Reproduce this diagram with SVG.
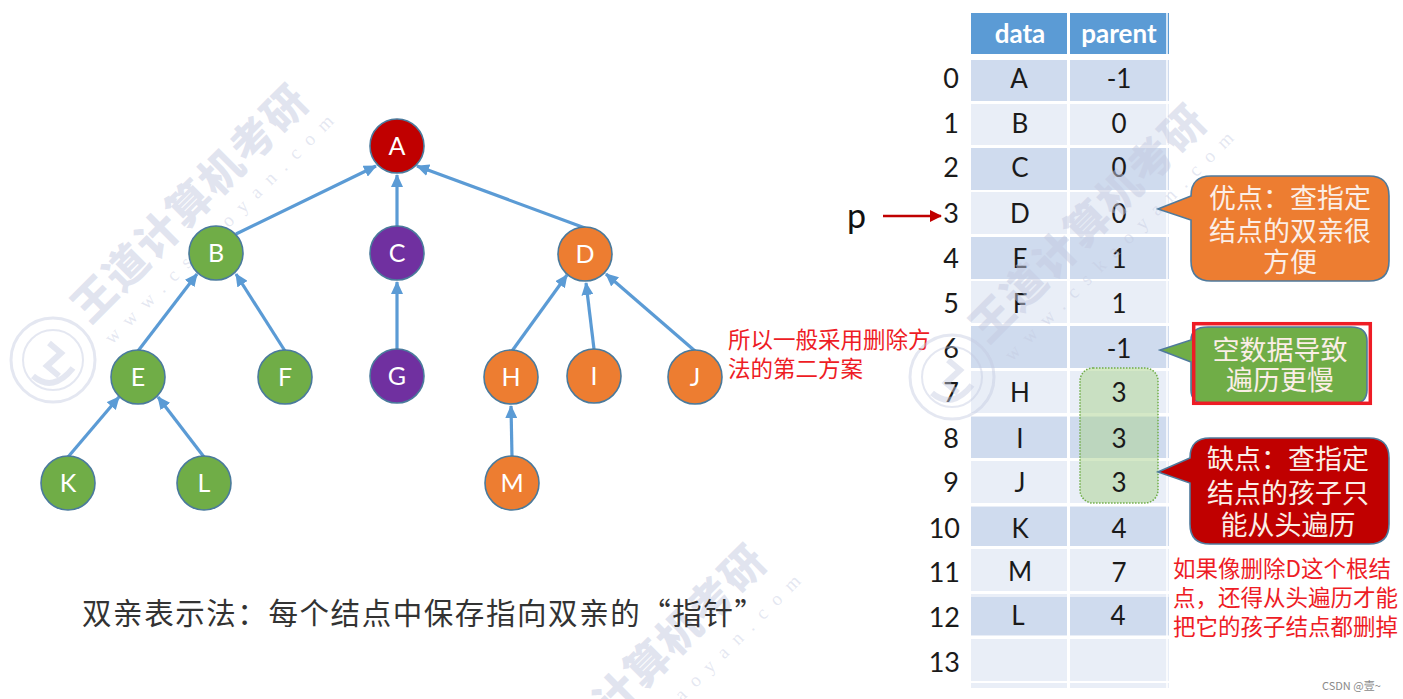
<svg xmlns="http://www.w3.org/2000/svg" width="1403" height="699" viewBox="0 0 1403 699">
<style>
text{font-family:"Noto Sans CJK SC","Noto Sans",sans-serif}
.lat{font-family:Lato,"Noto Sans",sans-serif}
.n circle{stroke:#4a7a9c;stroke-width:1.6}
.n text{font-family:Lato,"Noto Sans",sans-serif;font-size:25px;fill:#fff;text-anchor:middle}
.g{fill:#70ad47}.o{fill:#ed7d31}.p{fill:#7030a0}.r{fill:#c00000}
.e{stroke:#5b9bd5;stroke-width:3.2;fill:none;marker-end:url(#ah)}
.wm{font-size:43px;font-weight:900;fill:#c3c9e0;fill-opacity:.5}
.ws{font-family:"Liberation Serif",serif;font-size:19px;fill:#c3c9e0;fill-opacity:.45}
.seal{fill:none;stroke:#c3c9e0;stroke-opacity:.45}
.h{fill:#5b9bd5}.d{fill:#cfdbee}.l{fill:#e9eef7}
.c{font-family:Lato,"Noto Sans",sans-serif;font-size:26px;fill:#1a1a1a;text-anchor:middle}
.i{font-family:Lato,"Noto Sans",sans-serif;font-size:27px;fill:#1a1a1a;text-anchor:end}
.hd{font-family:Lato,"Noto Sans",sans-serif;font-size:26px;font-weight:700;fill:#fff;text-anchor:middle}
.co{stroke:#4f7a9c;stroke-width:1.6}
.ct{font-size:27px;fill:#fbeee6;text-anchor:middle}
.red{font-size:22.5px;fill:#ee1c25}
</style>
<defs>
<marker id="ah" markerUnits="userSpaceOnUse" markerWidth="14" markerHeight="12" refX="12" refY="6" orient="auto"><path d="M0 0L13 6L0 12Z" fill="#5b9bd5"/></marker>
<marker id="ar" markerUnits="userSpaceOnUse" markerWidth="12" markerHeight="12" refX="11" refY="6" orient="auto"><path d="M0 0L12 6L0 12Z" fill="#c00000"/></marker>
</defs>
<rect width="1403" height="699" fill="#fff"/>
<g id="watermarks-left">
<text class="wm" transform="translate(90 325) rotate(-45)" textLength="312">王道计算机考研</text>
<text class="ws" transform="translate(112 345) rotate(-45)" textLength="315">www.cskaoyan.com</text>
<g class="seal"><circle cx="53" cy="360" r="42" stroke-width="3"/><circle cx="53" cy="360" r="30" stroke-width="2"/><path d="M33 376Q53 393 73 368M49 343L61 353L47 366L59 376" stroke-width="6"/></g>
<text class="wm" transform="translate(548 785) rotate(-45)" textLength="312">王道计算机考研</text>
<text class="ws" transform="translate(579 805) rotate(-45)" textLength="315">www.cskaoyan.com</text>
</g>
<g id="connectors">
<path class="e" d="M236 234L376 166"/>
<path class="e" d="M397 227V175"/>
<path class="e" d="M585 228L417 166"/>
<path class="e" d="M138 351L197 274"/>
<path class="e" d="M285 351L236 274"/>
<path class="e" d="M397 349V282"/>
<path class="e" d="M512 351L567 275"/>
<path class="e" d="M594 349L586 283"/>
<path class="e" d="M695 351L606 274"/>
<path class="e" d="M68 457L119 397"/>
<path class="e" d="M204 457L158 397"/>
<path class="e" d="M512 457L511 406"/>
<path d="M883 216H941" stroke="#c00000" stroke-width="2.4" fill="none" marker-end="url(#ar)"/>
</g>
<g id="node-A" class="n"><circle class="r" cx="397" cy="146" r="27"/><text x="397" y="155">A</text></g>
<g id="node-B" class="n"><circle class="g" cx="216" cy="253" r="27"/><text x="216" y="262">B</text></g>
<g id="node-C" class="n"><circle class="p" cx="397" cy="253" r="27"/><text x="397" y="262">C</text></g>
<g id="node-D" class="n"><circle class="o" cx="585" cy="254" r="27"/><text x="585" y="263">D</text></g>
<g id="node-E" class="n"><circle class="g" cx="138" cy="377" r="27"/><text x="138" y="386">E</text></g>
<g id="node-F" class="n"><circle class="g" cx="285" cy="377" r="27"/><text x="285" y="386">F</text></g>
<g id="node-G" class="n"><circle class="p" cx="397" cy="376" r="27"/><text x="397" y="385">G</text></g>
<g id="node-H" class="n"><circle class="o" cx="511" cy="377" r="27"/><text x="511" y="386">H</text></g>
<g id="node-I" class="n"><circle class="o" cx="594" cy="376" r="27"/><text x="594" y="385">I</text></g>
<g id="node-J" class="n"><circle class="o" cx="695" cy="377" r="27"/><text x="695" y="386">J</text></g>
<g id="node-K" class="n"><circle class="g" cx="68" cy="483" r="27"/><text x="68" y="492">K</text></g>
<g id="node-L" class="n"><circle class="g" cx="204" cy="483" r="27"/><text x="204" y="492">L</text></g>
<g id="node-M" class="n"><circle class="o" cx="512" cy="483" r="27"/><text x="512" y="492">M</text></g>
<text id="caption" x="82" y="624" font-size="29.5" fill="#333" textLength="682" lang="zh-CN">双亲表示法：每个结点中保存指向双亲的“指针”</text>
<g id="note-left"><text class="red" x="728" y="348">所以一般采用删除方<tspan x="728" y="377">法的第二方案</tspan></text></g>
<g id="table">
<rect x="971" y="13" width="198" height="675" fill="#e9eef7"/>
<rect x="971" y="13" width="198" height="41" class="h"/>
<rect x="971" y="54" width="198" height="6" fill="#fff"/>
<rect x="971" y="60" width="198" height="41" class="d"/>
<rect x="971" y="148" width="198" height="42" class="d"/>
<rect x="971" y="236" width="198" height="43" class="d"/>
<rect x="971" y="326" width="198" height="42" class="d"/>
<rect x="971" y="417" width="198" height="41" class="d"/>
<rect x="971" y="507" width="198" height="39" class="d"/>
<rect x="971" y="597" width="198" height="38" class="d"/>
<g fill="#fff">
<rect x="1067" y="13" width="3" height="675"/><rect x="1166" y="13" width="2" height="675" opacity=".75"/>
<rect x="971" y="101" width="198" height="3"/><rect x="971" y="145" width="198" height="3"/><rect x="971" y="190" width="198" height="2"/><rect x="971" y="234" width="198" height="3"/><rect x="971" y="279" width="198" height="2"/><rect x="971" y="323" width="198" height="3"/><rect x="971" y="368" width="198" height="3"/><rect x="971" y="413" width="198" height="3"/><rect x="971" y="458" width="198" height="3"/><rect x="971" y="503" width="198" height="3"/><rect x="971" y="546" width="198" height="3"/><rect x="971" y="591" width="198" height="3"/><rect x="971" y="636" width="198" height="3"/><rect x="971" y="681" width="198" height="2"/>
</g>
<text class="hd" x="1020" y="43">data</text><text class="hd" x="1119" y="43">parent</text>
<text class="i" x="959" y="88">0</text><text class="c" x="1019" y="88">A</text><text class="c" x="1119" y="88">-1</text>
<text class="i" x="959" y="133">1</text><text class="c" x="1020" y="133">B</text><text class="c" x="1119" y="133">0</text>
<text class="i" x="959" y="177">2</text><text class="c" x="1020" y="177">C</text><text class="c" x="1119" y="177">0</text>
<text class="i" x="959" y="223">3</text><text class="c" x="1020" y="223">D</text><text class="c" x="1119" y="223">0</text>
<text class="i" x="959" y="268">4</text><text class="c" x="1020" y="268">E</text><text class="c" x="1119" y="268">1</text>
<text class="i" x="959" y="313">5</text><text class="c" x="1020" y="313">F</text><text class="c" x="1119" y="313">1</text>
<text class="i" x="959" y="358">6</text><text class="c" x="1119" y="358">-1</text>
<text class="i" x="959" y="402">7</text><text class="c" x="1020" y="402">H</text>
<text class="i" x="959" y="448">8</text><text class="c" x="1020" y="448">I</text>
<text class="i" x="959" y="492">9</text><text class="c" x="1020" y="492">J</text>
<text class="i" x="960" y="538">10</text><text class="c" x="1020" y="538">K</text><text class="c" x="1119" y="538">4</text>
<text class="i" x="960" y="582">11</text><text class="c" x="1020" y="581">M</text><text class="c" x="1119" y="582">7</text>
<text class="i" x="960" y="627">12</text><text class="c" x="1018" y="625">L</text><text class="c" x="1118" y="625">4</text>
<text class="i" x="960" y="672">13</text>
</g>
<g id="watermarks-right">
<text class="wm" transform="translate(988 345) rotate(-45)" textLength="312">王道计算机考研</text>
<text class="ws" transform="translate(1012 362) rotate(-45)" textLength="315">www.cskaoyan.com</text>
<g class="seal"><circle cx="952" cy="377" r="42" stroke-width="3"/><circle cx="952" cy="377" r="30" stroke-width="2"/><path d="M932 393Q952 410 972 385M948 360L960 370L946 383L958 393" stroke-width="6"/></g>
</g>
<g id="highlight">
<rect x="1080" y="368" width="78" height="135" rx="13" fill="#a9d18e" fill-opacity=".5" stroke="#70ad47" stroke-width="1.5" stroke-dasharray="1.5 1.5"/>
<text class="c" x="1119" y="402">3</text><text class="c" x="1119" y="448">3</text><text class="c" x="1119" y="492">3</text>
</g>
<text id="pointer" class="lat" x="847" y="228" font-size="34" fill="#111">p</text>
<g id="callout-pro">
<path class="co o" d="M1211 176H1369Q1389 176 1389 196V261Q1389 281 1369 281H1211Q1191 281 1191 261V220L1158 209L1191 196Q1191 176 1211 176Z"/>
<text class="ct" x="1290" y="208">优点：查指定<tspan x="1290" y="241">结点的双亲很</tspan><tspan x="1290" y="272">方便</tspan></text>
</g>
<g id="callout-empty">
<path class="co g" d="M1208 327H1351Q1367 327 1367 341V390Q1367 404 1351 404H1208Q1191 404 1191 390V362L1160 350L1191 340Q1191 327 1208 327Z"/>
<text class="ct" x="1280" y="360">空数据导致<tspan x="1280" y="390">遍历更慢</tspan></text>
<rect x="1193.7" y="323.7" width="176.6" height="79.6" fill="none" stroke="#ee1c25" stroke-width="3.5"/>
</g>
<g id="callout-con">
<path class="co r" d="M1210 438H1369Q1389 438 1389 458V524Q1389 544 1369 544H1210Q1190 544 1190 524V483L1158 472L1190 458Q1190 438 1210 438Z"/>
<text class="ct" x="1288" y="469">缺点：查指定<tspan x="1288" y="503">结点的孩子只</tspan><tspan x="1288" y="535">能从头遍历</tspan></text>
</g>
<g id="note-right"><text class="red" x="1173" y="577">如果像删除D这个根结<tspan x="1173" y="606">点，还得从头遍历才能</tspan><tspan x="1173" y="635">把它的孩子结点都删掉</tspan></text></g>
<text id="credit" x="1322" y="690" font-size="11" fill="#8a8a8a">CSDN @壹~</text>
</svg>
